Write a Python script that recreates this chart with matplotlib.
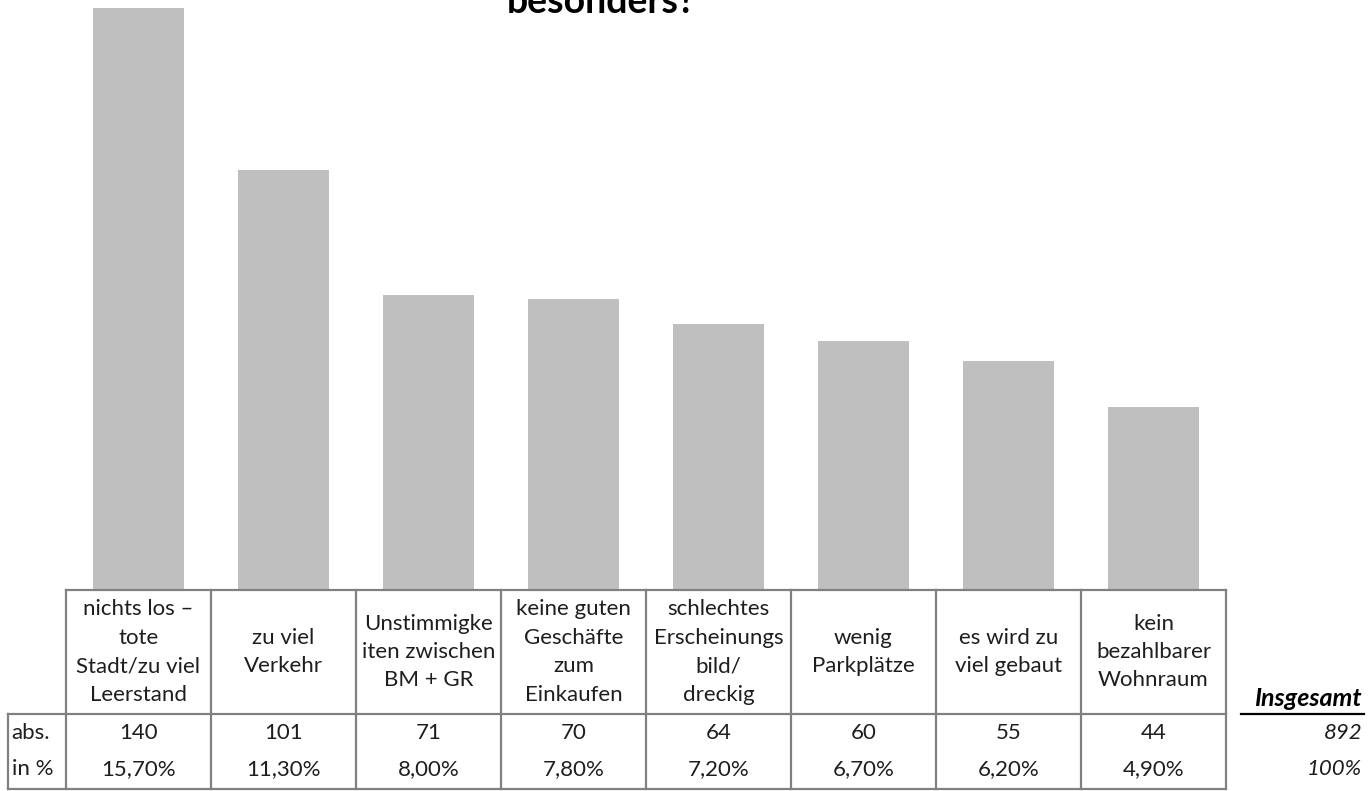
import matplotlib
matplotlib.use('Agg')
import matplotlib.pyplot as plt

plt.rcParams['font.family'] = ['Lato', 'DejaVu Sans']

# Daten
title = 'besonders?'
categories = ['nichts los –\ntote\nStadt/zu viel\nLeerstand', 'zu viel\nVerkehr',
              'Unstimmigke\niten zwischen\nBM + GR', 'keine guten\nGeschäfte\nzum\nEinkaufen',
              'schlechtes\nErscheinungs\nbild/\ndreckig', 'wenig\nParkplätze',
              'es wird zu\nviel gebaut', 'kein\nbezahlbarer\nWohnraum']
abs_values = [140, 101, 71, 70, 64, 60, 55, 44]
pct_labels = ['15,70%', '11,30%', '8,00%', '7,80%', '7,20%', '6,70%', '6,20%', '4,90%']
row_labels = ['abs.', 'in %']
total_label = 'Insgesamt'
total_abs = '892'
total_pct = '100%'

W, H = 1369, 791
fig = plt.figure(figsize=(W / 100, H / 100), dpi=100)
fs = 16
tc = '#1e1e1e'

# Balken
ax = fig.add_axes([66 / W, 201 / H, 1160 / W, 590 / H])
ax.bar(range(len(abs_values)), abs_values, width=0.634, color='#bfbfbf')
ax.set_xlim(-0.5, len(abs_values) - 0.5)
ax.set_ylim(0, 141.9)
ax.axis('off')

fig.text(601 / W, 1 - 13 / H, title, ha='center', va='baseline',
         fontsize=27, fontweight='bold')

# Tabelle unter den Balken
tx = fig.add_axes([66 / W, 0, 1160 / W, 201 / H])
tx.set_xlim(-0.5, len(abs_values) - 0.5)
tx.set_ylim(201, 0)
tx.axis('off')

n = len(abs_values)
lab_left = -0.5 - 58 / 145
lc = '#808080'
lw = 1.6
kw = dict(color=lc, lw=lw, clip_on=False, solid_capstyle='projecting')
tx.plot([-0.5, n - 0.5], [0, 0], **kw)
tx.plot([lab_left, n - 0.5], [124, 124], **kw)
tx.plot([lab_left, n - 0.5], [199, 199], **kw)
tx.plot([lab_left, lab_left], [124, 199], **kw)
for i in range(n + 1):
    tx.plot([i - 0.5, i - 0.5], [0, 199], **kw)

for i, (cat, v, p) in enumerate(zip(categories, abs_values, pct_labels)):
    tx.text(i, 62, cat, ha='center', va='center', fontsize=fs, linespacing=1.53,
            color=tc, clip_on=False)
    tx.text(i, 143, str(v), ha='center', va='center', fontsize=fs, color=tc)
    tx.text(i, 179, p, ha='center', va='center', fontsize=fs, color=tc)

tx.text(lab_left + 0.025, 143, row_labels[0], ha='left', va='center', fontsize=fs, color=tc)
tx.text(lab_left + 0.025, 179, row_labels[1], ha='left', va='center', fontsize=fs, color=tc)

# Insgesamt
tot_x = (1362 - 66) / 145 - 0.5
tx.text(tot_x, 109, total_label, ha='right', va='center', fontsize=fs + 2,
        fontweight='bold', style='italic', color='black', clip_on=False)
tx.plot([(1241 - 66) / 145 - 0.5, (1364 - 66) / 145 - 0.5], [124, 124],
        color='black', lw=1.6, clip_on=False)
tx.text(tot_x, 143, total_abs, ha='right', va='center', fontsize=fs, style='italic',
        color=tc, clip_on=False)
tx.text(tot_x, 179, total_pct, ha='right', va='center', fontsize=fs, style='italic',
        color=tc, clip_on=False)

fig.savefig('out.png', dpi=100)
